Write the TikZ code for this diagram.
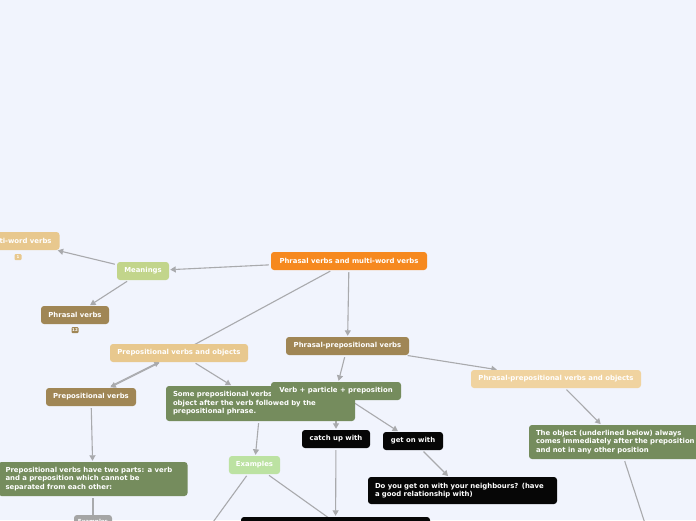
\documentclass[tikz,border=0pt]{standalone}
\usepackage{fontspec}
\setmainfont{DejaVu Sans}
\usetikzlibrary{arrows.meta}
\pgfdeclarelayer{bg}
\pgfsetlayers{bg,main}
\definecolor{bgc}{HTML}{F1F4FD}
\definecolor{orangec}{HTML}{F6891F}
\definecolor{meanc}{HTML}{C2D58B}
\definecolor{tanc}{HTML}{E8C88E}
\definecolor{ltanc}{HTML}{F0D3A0}
\definecolor{brownc}{HTML}{A08655}
\definecolor{greenc}{HTML}{758C5D}
\definecolor{exc}{HTML}{BCE2A2}
\definecolor{greyc}{HTML}{A5A5A5}
\definecolor{blackc}{HTML}{060606}
\definecolor{linec}{HTML}{A9AAAD}
\tikzset{
  box/.style={rounded corners=3pt, text=white, inner xsep=7pt, inner ysep=2pt,
    minimum height=18pt, font=\fontsize{6.9}{8.5}\selectfont\bfseries},
  mbox/.style={box, align=left, inner ysep=5pt},
  badge/.style={rounded corners=1pt, text=white, inner sep=0pt, minimum width=7pt,
    minimum height=6pt, font=\fontsize{4}{4}\selectfont\bfseries},
  conn/.style={draw=linec, line width=1.1pt, -{Triangle[length=5.5pt,width=6pt]},
    shorten >=1pt, shorten <=2pt},
  plain/.style={draw=linec, line width=1.1pt, shorten <=2pt}
}
\begin{document}
\begin{tikzpicture}[x=1pt,y=-1pt]
\begin{pgfonlayer}{bg}
\fill[bgc] (0,0) rectangle (696,520);
\end{pgfonlayer}
\useasboundingbox (0,0) rectangle (696,520);

% nodes
\node[box, fill=orangec, minimum width=156pt] (root) at (349,261) {Phrasal verbs and multi-word verbs};
\node[box, fill=meanc, minimum width=52pt] (mean) at (143,271) {Meanings};
\node[box, fill=tanc, minimum width=82pt] (multi) at (18.5,241) {Multi-word verbs};
\node[badge, fill=tanc] (b1) at (18,257) {1};
\node[box, fill=brownc, minimum width=68pt] (phrasal) at (75,315) {Phrasal verbs};
\node[badge, fill=brownc] (b12) at (75,330) {12};
\node[box, fill=tanc, minimum width=138pt] (prepobj) at (179,353) {Prepositional verbs and objects};
\node[box, fill=brownc, minimum width=123pt] (pp) at (347.5,346) {Phrasal-prepositional verbs};
\node[box, fill=ltanc, minimum width=170pt] (ppobj) at (556,379) {Phrasal-prepositional verbs and objects};
\node[box, fill=brownc, minimum width=90pt] (prepverbs) at (91,397) {Prepositional verbs};
\node[mbox, fill=greenc, text width=175pt, minimum height=35pt] (some) at (260.5,403.5)
  {Some prepositional verbs can have an\\object after the verb followed by the\\prepositional phrase.};
\node[box, fill=greenc, minimum width=130pt] (vpp) at (336,391) {Verb + particle + preposition};
\node[box, fill=blackc, minimum width=68pt] (catch) at (336,439) {catch up with};
\node[box, fill=blackc, minimum width=60pt] (geton) at (413,441) {get on with};
\node[mbox, fill=blackc, text width=175pt, minimum height=27pt] (doyou) at (462.5,490.5)
  {Do you get on with your neighbours? (have\\a good relationship with)};
\node[box, fill=exc, minimum width=51pt] (ex) at (254.5,465) {Examples};
\node[mbox, fill=greenc, text width=175pt, minimum height=34pt] (twoparts) at (93,479)
  {Prepositional verbs have two parts: a verb\\and a preposition which cannot be\\separated from each other:};
\node[box, fill=greyc, minimum width=38pt, minimum height=14pt, inner xsep=3pt,
  font=\fontsize{5.6}{6}\selectfont\bfseries] (gex) at (93,522) {Examples};
\node[box, fill=blackc, minimum width=189pt, minimum height=36pt] (bottom) at (335.5,535) {};
\node[mbox, fill=greenc, text width=165pt, minimum height=34pt] (object) at (618.5,442)
  {The object (underlined below) always\\comes immediately after the preposition\\and not in any other position};

\coordinate (exoffa) at (200,540);
\coordinate (exoffb) at (420,583);
\coordinate (objoff) at (652,545);

% connectors
\begin{pgfonlayer}{bg}
\draw[conn] (root) -- (mean);
\draw[conn] (mean) -- (multi);
\draw[conn] (mean) -- (phrasal);
\draw[plain] (root) -- (prepobj.center);
\draw[conn] (root) -- (pp);
\draw[conn] (pp) -- (ppobj);
\draw[conn] (pp) -- (vpp);
\draw[conn] (prepobj) -- (prepverbs);
\draw[conn, transform canvas={yshift=1pt}] (prepverbs) -- (prepobj);
\draw[conn] (prepobj) -- (some);
\draw[conn] (vpp) -- (catch);
\draw[conn] (vpp) -- (geton);
\draw[conn] (geton) -- (doyou);
\draw[conn] (catch) -- (bottom);
\draw[conn] (some) -- (ex);
\draw[plain] (ex) -- (exoffb);
\draw[plain] (ex) -- (exoffa);
\draw[conn] (prepverbs) -- (twoparts);
\draw[plain] (twoparts) -- (gex);
\draw[conn] (ppobj) -- (object);
\draw[plain] (object) -- (objoff);
\end{pgfonlayer}
\end{tikzpicture}
\end{document}
